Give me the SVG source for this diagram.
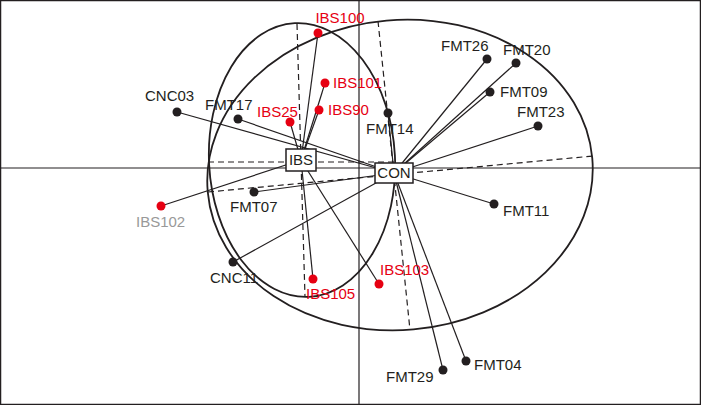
<svg xmlns="http://www.w3.org/2000/svg" width="701" height="405" viewBox="0 0 701 405">
<style>
text{font-family:"Liberation Sans",Arial,sans-serif;font-size:15px}
.k{fill:#231f20}.r{fill:#e60012}.g{fill:#999}
.ln{stroke:#231f20;stroke-width:1.2;fill:none}
.d{stroke:#231f20;stroke-width:1.2;stroke-dasharray:6,4;fill:none}
.el{stroke:#231f20;stroke-width:1.8;fill:none}
.box{fill:#fff;stroke:#231f20;stroke-width:1.5}
</style>
<rect x="0.5" y="0.5" width="700" height="404" fill="#fff" stroke="#231f20" stroke-width="1.5"/>
<line class="ln" x1="0" y1="168" x2="701" y2="168"/>
<line class="ln" x1="359" y1="0" x2="359" y2="405"/>
<g id="ellipses">
<ellipse class="el" cx="400" cy="175" rx="193" ry="155" transform="rotate(-5 400 175)"/>
<ellipse class="el" cx="302" cy="160" rx="93" ry="137" transform="rotate(-3 302 160)"/>
<line class="d" x1="208" y1="162" x2="395" y2="162"/>
<line class="d" x1="297" y1="24" x2="305" y2="297"/>
<line class="d" x1="208" y1="192" x2="593" y2="156"/>
<line class="d" x1="378" y1="21" x2="410" y2="330"/>
</g>
<g id="connectors">
<line class="ln" x1="301" y1="160" x2="318" y2="33"/>
<line class="ln" x1="301" y1="160" x2="325" y2="83"/>
<line class="ln" x1="301" y1="160" x2="319" y2="110"/>
<line class="ln" x1="301" y1="160" x2="290" y2="122"/>
<line class="ln" x1="301" y1="160" x2="313" y2="279"/>
<line class="ln" x1="301" y1="160" x2="379" y2="284"/>
<line class="ln" x1="301" y1="160" x2="161" y2="206"/>
<line class="ln" x1="394" y1="173" x2="177" y2="112"/>
<line class="ln" x1="394" y1="173" x2="238" y2="119"/>
<line class="ln" x1="394" y1="173" x2="254" y2="192"/>
<line class="ln" x1="394" y1="173" x2="233" y2="262"/>
<line class="ln" x1="394" y1="173" x2="388" y2="113"/>
<line class="ln" x1="394" y1="173" x2="487" y2="59"/>
<line class="ln" x1="394" y1="173" x2="516" y2="63"/>
<line class="ln" x1="394" y1="173" x2="490" y2="92"/>
<line class="ln" x1="394" y1="173" x2="538" y2="126"/>
<line class="ln" x1="394" y1="173" x2="494" y2="204"/>
<line class="ln" x1="394" y1="173" x2="466" y2="361"/>
<line class="ln" x1="394" y1="173" x2="443" y2="370"/>
</g>
<g id="IBS"><rect class="box" x="286" y="149" width="30" height="22"/><text class="k" x="301" y="165" text-anchor="middle">IBS</text></g>
<g id="CON"><rect class="box" x="375" y="163" width="38" height="20"/><text class="k" x="394" y="178" text-anchor="middle">CON</text></g>
<g id="IBS100"><circle class="r" cx="318" cy="33" r="4.5"/><text class="r" x="340" y="23" text-anchor="middle">IBS100</text></g>
<g id="IBS101"><circle class="r" cx="325" cy="83" r="4.5"/><text class="r" x="333" y="88">IBS101</text></g>
<g id="IBS90"><circle class="r" cx="319" cy="110" r="4.5"/><text class="r" x="328" y="115">IBS90</text></g>
<g id="IBS25"><circle class="r" cx="290" cy="122" r="4.5"/><text class="r" x="257" y="117">IBS25</text></g>
<g id="IBS105"><circle class="r" cx="313" cy="279" r="4.5"/><text class="r" x="306" y="299">IBS105</text></g>
<g id="IBS103"><circle class="r" cx="379" cy="284" r="4.5"/><text class="r" x="380" y="275">IBS103</text></g>
<g id="IBS102"><circle class="r" cx="161" cy="206" r="4.5"/><text class="g" x="136" y="227">IBS102</text></g>
<g id="CNC03"><circle class="k" cx="177" cy="112" r="4.5"/><text class="k" x="145" y="101">CNC03</text></g>
<g id="CNC11"><circle class="k" cx="233" cy="262" r="4.5"/><text class="k" x="210" y="283">CNC11</text></g>
<g id="FMT17"><circle class="k" cx="238" cy="119" r="4.5"/><text class="k" x="205" y="110">FMT17</text></g>
<g id="FMT07"><circle class="k" cx="254" cy="192" r="4.5"/><text class="k" x="230" y="212">FMT07</text></g>
<g id="FMT14"><circle class="k" cx="388" cy="113" r="4.5"/><text class="k" x="366" y="134">FMT14</text></g>
<g id="FMT26"><circle class="k" cx="487" cy="59" r="4.5"/><text class="k" x="441" y="51">FMT26</text></g>
<g id="FMT20"><circle class="k" cx="516" cy="63" r="4.5"/><text class="k" x="503" y="55">FMT20</text></g>
<g id="FMT09"><circle class="k" cx="490" cy="92" r="4.5"/><text class="k" x="500" y="97">FMT09</text></g>
<g id="FMT23"><circle class="k" cx="538" cy="126" r="4.5"/><text class="k" x="517" y="117">FMT23</text></g>
<g id="FMT11"><circle class="k" cx="494" cy="204" r="4.5"/><text class="k" x="503" y="216">FMT11</text></g>
<g id="FMT04"><circle class="k" cx="466" cy="361" r="4.5"/><text class="k" x="474" y="370">FMT04</text></g>
<g id="FMT29"><circle class="k" cx="443" cy="370" r="4.5"/><text class="k" x="386" y="382">FMT29</text></g>
</svg>
